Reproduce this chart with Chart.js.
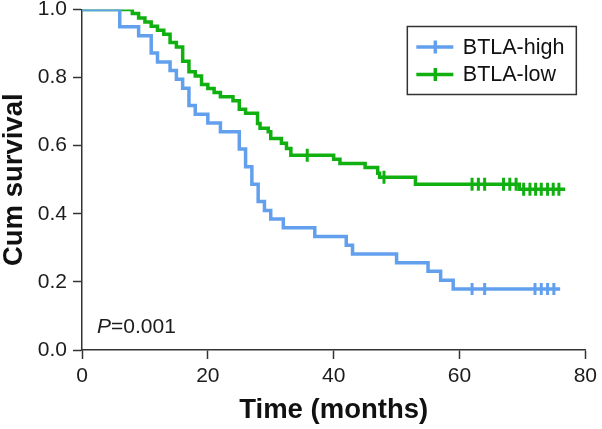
<!DOCTYPE html>
<html>
<head>
<meta charset="utf-8">
<script src="https://cdn.jsdelivr.net/npm/chart.js@4.4.1/dist/chart.umd.min.js"></script>
<style>
  html, body { margin: 0; padding: 0; background: #fff; }
  #wrap { width: 602px; height: 429px; }
</style>
</head>
<body>
<div id="wrap"><canvas id="km" width="602" height="429"></canvas></div>
<script>
// BTLA-high: months where the curve drops, survival after the drop
var highTime = [0, 6, 9, 11, 12, 14, 15, 16, 17, 18, 20, 22, 25, 26, 27, 28, 29, 30, 32, 37, 42, 43, 50, 55, 57, 59, 76];
var highSurv = [1.0, 0.949, 0.923, 0.872, 0.846, 0.821, 0.795, 0.769, 0.718, 0.692, 0.667, 0.641, 0.590, 0.538, 0.487, 0.436, 0.410, 0.385, 0.359, 0.333, 0.308, 0.282, 0.256, 0.231, 0.205, 0.179, 0.179];
var highCensorTime = [62, 64, 72, 73, 74, 75];
var highCensorSurv = [0.179, 0.179, 0.179, 0.179, 0.179, 0.179];

// BTLA-low
var lowTime = [0, 8, 9, 10, 11, 12, 13, 14, 15, 16, 17, 18, 19, 20, 21, 22, 24, 25, 26, 27.9, 28.3, 29.6, 30, 31.7, 32.5, 33.2, 40, 41, 45, 47, 47.3, 53, 69.5, 76.8];
var lowSurv = [1.0, 0.988, 0.975, 0.963, 0.951, 0.939, 0.927, 0.903, 0.890, 0.848, 0.817, 0.805, 0.780, 0.768, 0.756, 0.744, 0.732, 0.707, 0.695, 0.665, 0.651, 0.641, 0.621, 0.607, 0.592, 0.572, 0.560, 0.548, 0.536, 0.519, 0.507, 0.487, 0.472, 0.472];
var lowCensorTime = [35.8, 48, 62, 63, 64, 67, 68, 69, 70.2, 71.2, 72.1, 73, 74, 74.9, 75.8];
var lowCensorSurv = [0.572, 0.507, 0.487, 0.487, 0.487, 0.487, 0.487, 0.487, 0.472, 0.472, 0.472, 0.472, 0.472, 0.472, 0.472];

var groupNames = ["BTLA-high", "BTLA-low"];
var xTickLabels = ["0", "20", "40", "60", "80"];
var yTickLabels = ["0.0", "0.2", "0.4", "0.6", "0.8", "1.0"];
var pText = "=0.001";

var blue = "#62a0ee";
var green = "#10b010";
var ink = "#1c1c1c";
var family = "'Liberation Sans', Arial, sans-serif";

function pts(xs, ys) {
  return xs.map(function(x, i) { return { x: x, y: ys[i] }; });
}

// legend box and P value drawn on top of the plot
var extras = {
  id: "extras",
  afterDatasetsDraw: function(chart) {
    var ctx = chart.ctx;
    var a = chart.chartArea;
    ctx.save();
    // P value
    ctx.fillStyle = ink;
    ctx.textBaseline = "alphabetic";
    ctx.font = "italic 21px " + family;
    var px = a.left + 15, py = a.bottom - 17;
    ctx.fillText("P", px, py);
    var w = ctx.measureText("P").width;
    ctx.font = "21px " + family;
    ctx.fillText(pText, px + w, py);

    // legend
    var bx = a.right - 178, by = a.top + 17;
    ctx.strokeStyle = "#333";
    ctx.lineWidth = 1.5;
    ctx.strokeRect(bx, by, 169, 68);
    var cols = [blue, green];
    for (var i = 0; i < groupNames.length; i++) {
      var y = by + 20.5 + i * 27.5;
      ctx.strokeStyle = cols[i];
      ctx.lineWidth = 3.5;
      ctx.beginPath();
      ctx.moveTo(bx + 9, y);
      ctx.lineTo(bx + 46, y);
      ctx.moveTo(bx + 28, y - 6.5);
      ctx.lineTo(bx + 28, y + 6.5);
      ctx.stroke();
      ctx.fillStyle = "#111";
      ctx.textBaseline = "middle";
      ctx.font = "21.5px " + family;
      ctx.fillText(groupNames[i], bx + 55.5, y + 1);
    }
    ctx.restore();
  }
};

var ctx = document.getElementById("km");

var data = {
  datasets: [
    {
      label: groupNames[0],
      data: pts(highTime, highSurv),
      stepped: true,
      borderColor: blue,
      borderWidth: 3.5,
      pointRadius: 0,
      fill: false
    },
    {
      label: groupNames[1],
      data: pts(lowTime, lowSurv),
      stepped: true,
      borderColor: green,
      borderWidth: 3.5,
      pointRadius: 0,
      fill: false
    },
    {
      label: "high censored",
      data: pts(highCensorTime, highCensorSurv),
      showLine: false,
      pointStyle: "line",
      rotation: 90,
      pointRadius: 6,
      pointBorderWidth: 3,
      pointBorderColor: blue,
      borderColor: blue
    },
    {
      label: "low censored",
      data: pts(lowCensorTime, lowCensorSurv),
      showLine: false,
      pointStyle: "line",
      rotation: 90,
      pointRadius: 6.5,
      pointBorderWidth: 3,
      pointBorderColor: green,
      borderColor: green
    }
  ]
};

var options = {
  responsive: false,
  animation: false,
  layout: { padding: { top: 3, right: 12, left: 0, bottom: 0 } },
  plugins: {
    legend: { display: false },
    tooltip: { enabled: false }
  },
  scales: {
    x: {
      type: "linear",
      min: 0,
      max: 80,
      afterFit: function(s) { s.height = 79; },
      ticks: {
        stepSize: 20,
        padding: 5,
        color: ink,
        font: { family: family, size: 21 },
        callback: function(v, i) { return xTickLabels[i]; }
      },
      grid: { drawOnChartArea: false, drawTicks: true, tickLength: 9, tickWidth: 1.5, tickColor: "#333" },
      border: { color: "#333", width: 1.5 },
      title: {
        display: true,
        text: "Time (months)",
        color: "#111",
        font: { family: family, size: 27.5, weight: "bold", lineHeight: 1.1 },
        padding: { top: 0, bottom: 3 }
      }
    },
    y: {
      min: 0,
      max: 1,
      afterFit: function(s) { s.width = 82; },
      ticks: {
        stepSize: 0.2,
        padding: 6,
        color: ink,
        font: { family: family, size: 21, lineHeight: 0.3 },
        callback: function(v, i) { return yTickLabels[i]; }
      },
      grid: { drawOnChartArea: false, drawTicks: true, tickLength: 9, tickWidth: 1.5, tickColor: "#333" },
      border: { color: "#333", width: 1.5 },
      title: {
        display: true,
        text: "Cum survival",
        color: "#111",
        font: { family: family, size: 27.5, weight: "bold", lineHeight: 1.05 },
        padding: { top: 0, bottom: 0 }
      }
    }
  }
};

var chart = new Chart(ctx, {
  type: "line",
  data: data,
  options: options,
  plugins: [extras]
});
</script>
</body>
</html>
